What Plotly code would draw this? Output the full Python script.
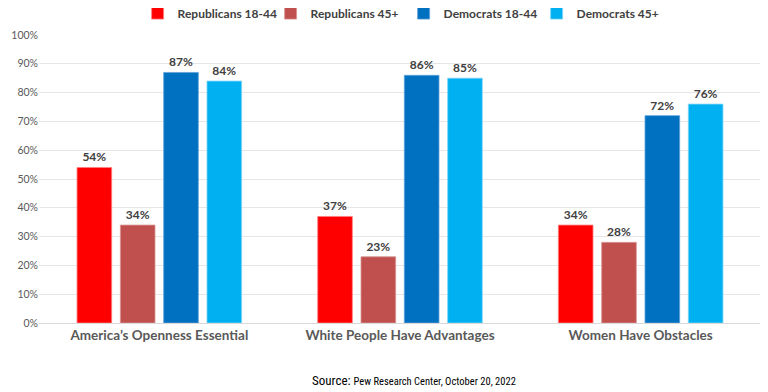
import plotly.graph_objects as go

categories = ["America’s Openness Essential", "White People Have Advantages", "Women Have Obstacles"]
series_names = ["Republicans 18-44", "Republicans 45+", "Democrats 18-44", "Democrats 45+"]
rep_18_44 = [54, 37, 34]
rep_45 = [34, 23, 28]
dem_18_44 = [87, 86, 72]
dem_45 = [84, 85, 76]
tick_vals = [0, 10, 20, 30, 40, 50, 60, 70, 80, 90, 100]
tick_text = [f"{v}%" for v in tick_vals]
source_text = "Source: <span style='font-size:10.5px'>Pew Research Center, October 20, 2022</span>"

colors = ["#FF0000", "#C0504D", "#0070C0", "#00B0F0"]
edge = ["#FF7F7F", "#D99694", "#5FA2D9", "#7FD6F7"]
series = [rep_18_44, rep_45, dem_18_44, dem_45]

FONT = "Lato, Open Sans, DejaVu Sans, sans-serif"

fig = go.Figure()
for name, vals, c, e in zip(series_names, series, colors, edge):
    fig.add_trace(go.Bar(
        x=categories, y=vals, name=name,
        marker=dict(color=c, line=dict(color=e, width=0.8)),
        text=[f"{v}%" for v in vals], textposition="outside",
        textfont=dict(family=FONT, size=12, color="#404040", weight="bold"),
        cliponaxis=False,
    ))

# page body has an 8px default margin; figure sized to fill the rest of the window
fig.update_layout(
    width=760, height=384,
    margin=dict(l=31, r=7, t=27, b=69, autoexpand=False),
    paper_bgcolor="white", plot_bgcolor="white",
    barmode="group", bargap=0.28, bargroupgap=0.2,
    font=dict(family=FONT, color="#595959"),
    legend=dict(
        orientation="h", x=0.505, xanchor="center", y=1.076, yanchor="middle",
        yref="paper",
        font=dict(size=12, color="#404040", family=FONT, weight="bold"),
        itemwidth=30, entrywidth=88, tracegroupgap=0,
    ),
    xaxis=dict(
        showline=True, linecolor="#D9D9D9", linewidth=1,
        tickfont=dict(size=13.5, color="#595959", weight="bold"),
        ticks="", fixedrange=True,
    ),
    yaxis=dict(
        range=[0, 100], tickvals=tick_vals, ticktext=tick_text,
        showgrid=True, gridcolor="#E6E6E6", gridwidth=1,
        zeroline=False, ticks="", ticklen=0,
        tickfont=dict(size=10.5, color="#595959"),
    ),
)
fig.add_annotation(
    text=source_text, x=0.52, xref="paper", y=-0.2, yref="paper",
    yanchor="middle", showarrow=False,
    font=dict(family="Liberation Sans Narrow, Roboto Condensed, DejaVu Sans Condensed, sans-serif", size=13, color="#000000"),
)

fig.write_html("out.html")
